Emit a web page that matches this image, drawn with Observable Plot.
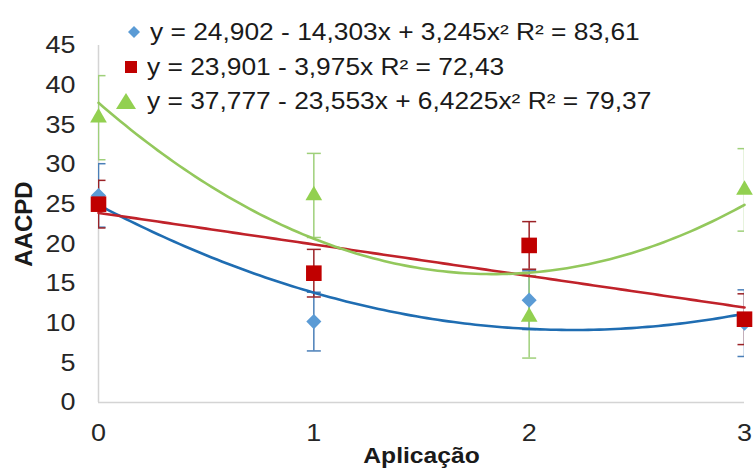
<!DOCTYPE html>
<html><head><meta charset="utf-8">
<script src="https://cdn.jsdelivr.net/npm/d3@7"></script>
<script src="https://cdn.jsdelivr.net/npm/@observablehq/plot@0.6"></script>
<style>
html,body{margin:0;padding:0;background:#fff;}
#wrap{position:relative;width:754px;height:473px;font-family:"Liberation Sans",Arial,sans-serif;}
.lgt{position:absolute;white-space:nowrap;font-size:23px;line-height:23px;color:#1a1a1a;transform:scaleX(1.145);transform-origin:left center;}
.lgm{position:absolute;}
</style></head><body><div id="wrap"></div>
<script>
// --- data ---
const aplicacao = [0, 1, 2, 3];
const serieAzul = [26.1, 10.2, 12.9, 10.0];
const erroAzul = [4.0, 3.7, 3.7, 4.2];
const serieVermelha = [25.0, 16.3, 19.8, 10.5];
const erroVermelho = [3.0, 3.0, 3.0, 3.2];
const serieVerde = [35.9, 26.1, 10.8, 26.8];
const erroVerde = [5.3, 5.3, 5.2, 5.2];
// trend-line coefficients printed in the legend (a + b x + c x^2)
const coefAzul = [24.902, -14.303, 3.245];
const coefVermelho = [23.901, -3.975, 0];
const coefVerde = [37.777, -23.553, 6.4225];
const equacoes = [
  "y = 24,902 - 14,303x + 3,245x² R² = 83,61",
  "y = 23,901 - 3,975x R² = 72,43",
  "y = 37,777 - 23,553x + 6,4225x² R² = 79,37"
];
const yTicks = [0, 5, 10, 15, 20, 25, 30, 35, 40, 45];
const xTicks = [0, 1, 2, 3];
const yTitle = "AACPD";
const xTitle = "Aplicação";

const series = [
  {name: "azul", values: serieAzul, err: erroAzul, coef: coefAzul, symbol: "diamond2", r: 6.8, marker: "#5b9bd5", line: "#1f6db2", bar: "#4a7fb8"},
  {name: "vermelho", values: serieVermelha, err: erroVermelho, coef: coefVermelho, symbol: "square", r: 8.8, marker: "#c00000", line: "#c0222a", bar: "#9b2226"},
  {name: "verde", values: serieVerde, err: erroVerde, coef: coefVerde, symbol: "triangle", r: 6.2, marker: "#92d050", line: "#93c85c", bar: "#9fd07a"}
];

const capSymbol = {draw(ctx, size) { const w = Math.sqrt(size); ctx.moveTo(-w / 2, 0); ctx.lineTo(w / 2, 0); }};
const xs = d3.range(0, 3.0001, 0.025);

const marks = [
  Plot.ruleY([0], {stroke: "#d4d4d4", strokeWidth: 1.5}),
  Plot.ruleX([0], {stroke: "#d4d4d4", strokeWidth: 1.5})
];
for (const s of series) {
  const pts = aplicacao.map((x, i) => ({x, y: s.values[i], lo: s.values[i] - s.err[i], hi: s.values[i] + s.err[i]}));
  marks.push(Plot.ruleX(pts, {x: "x", y1: "lo", y2: "hi", stroke: s.bar, strokeWidth: 1.5, clip: true}));
  marks.push(Plot.dot(pts, {x: "x", y: "lo", symbol: capSymbol, r: 7.9, fill: "none", stroke: s.bar, strokeWidth: 1.5, clip: true}));
  marks.push(Plot.dot(pts, {x: "x", y: "hi", symbol: capSymbol, r: 7.9, fill: "none", stroke: s.bar, strokeWidth: 1.5, clip: true}));
}
for (const s of series) {
  const curve = xs.map(x => ({x, y: s.coef[0] + s.coef[1] * x + s.coef[2] * x * x}));
  marks.push(Plot.line(curve, {x: "x", y: "y", stroke: s.line, strokeWidth: 2.6, curve: "linear"}));
}
for (const s of series) {
  const pts = aplicacao.map((x, i) => ({x, y: s.values[i]}));
  marks.push(Plot.dot(pts, {x: "x", y: "y", symbol: s.symbol, r: s.r, fill: s.marker, stroke: "none"}));
}
marks.push(Plot.axisY(yTicks, {anchor: "left", tickSize: 0, tickPadding: 23, fontSize: 24, fill: "#262626", label: null}));
marks.push(Plot.axisX(xTicks, {anchor: "bottom", tickSize: 0, tickPadding: 21, fontSize: 24, fill: "#262626", label: null, tickFormat: d => String(d)}));
marks.push(Plot.text([yTitle], {frameAnchor: "left", textAnchor: "middle", dx: -74, rotate: -90, fontWeight: "bold", fontSize: 24, fill: "#1a1a1a"}));
marks.push(Plot.text([xTitle], {frameAnchor: "bottom", textAnchor: "middle", dy: 60, fontWeight: "bold", fontSize: 22, fill: "#1a1a1a"}));

const chart = Plot.plot({
  width: 754, height: 473,
  marginLeft: 98, marginRight: 10, marginTop: 45, marginBottom: 71,
  style: {fontFamily: "Liberation Sans, Arial, sans-serif", background: "#fff", overflow: "visible"},
  x: {domain: [0, 3], axis: null},
  y: {domain: [0, 45], axis: null},
  marks
});
const wrap = document.getElementById("wrap");
wrap.appendChild(chart);
chart.querySelectorAll("text").forEach(t => {
  if (t.textContent === yTitle) return;
  const L = t.getComputedTextLength();
  if (L > 0) { t.setAttribute("textLength", (L * 1.12).toFixed(1)); t.setAttribute("lengthAdjust", "spacingAndGlyphs"); }
});

// legend (overlaid on the plot area, like the reference)
const lg = [
  {cy: 32, mx: 134, tx: 150, svg: '<svg width="14" height="14" viewBox="-7 -7 14 14"><path d="M0,-6L6,0L0,6L-6,0Z" fill="#5b9bd5"/></svg>'},
  {cy: 67, mx: 131, tx: 147, svg: '<svg width="14" height="14" viewBox="-7 -7 14 14"><rect x="-6" y="-6" width="12" height="12" fill="#c00000"/></svg>'},
  {cy: 101, mx: 126, tx: 147, svg: '<svg width="22" height="18" viewBox="-11 -9 22 18"><path d="M0,-8L10,8L-10,8Z" fill="#92d050"/></svg>'}
];
lg.forEach((d, i) => {
  const m = document.createElement("div");
  m.className = "lgm";
  m.innerHTML = d.svg;
  const sv = m.firstChild;
  const w = +sv.getAttribute("width"), h = +sv.getAttribute("height");
  m.style.left = (d.mx - w / 2) + "px";
  m.style.top = (d.cy - h / 2) + "px";
  m.style.lineHeight = "0";
  wrap.appendChild(m);
  const t = document.createElement("div");
  t.className = "lgt";
  t.textContent = equacoes[i];
  t.style.left = d.tx + "px";
  t.style.top = (d.cy - 11.2) + "px";
  wrap.appendChild(t);
});
</script></body></html>
